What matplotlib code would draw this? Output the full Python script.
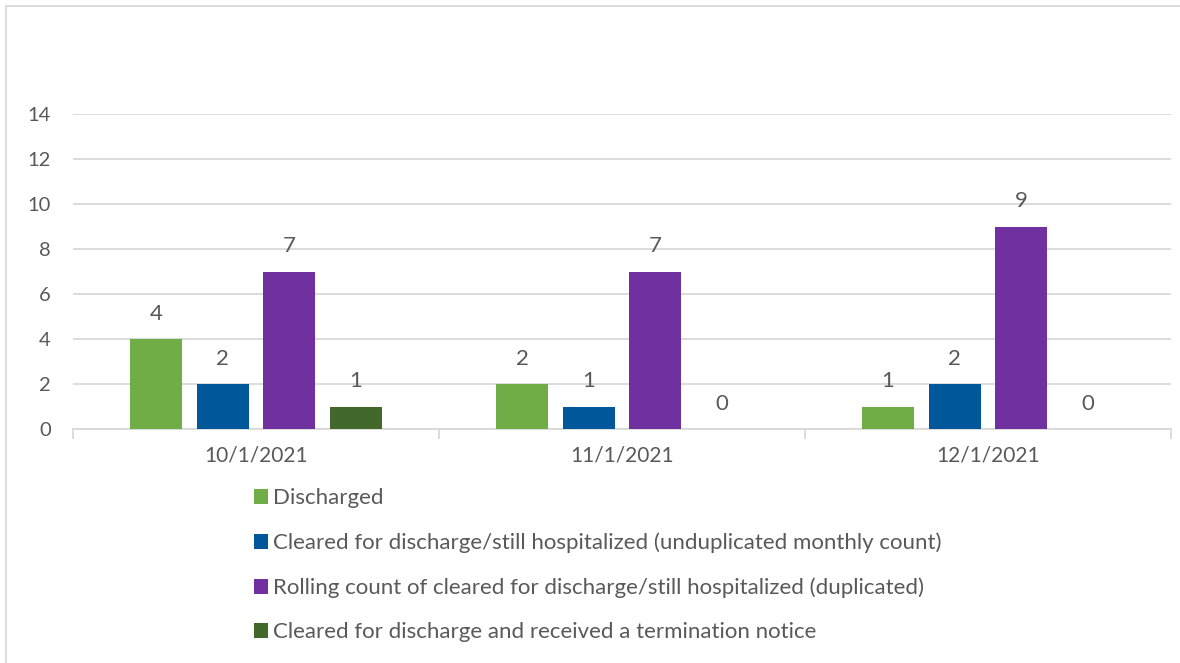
import matplotlib
matplotlib.use("Agg")
import matplotlib.pyplot as plt
from matplotlib.lines import Line2D
from matplotlib.patches import Patch
import numpy as np

categories = ["10/1/2021", "11/1/2021", "12/1/2021"]
series_names = [
    "Discharged",
    "Cleared for discharge/still hospitalized (unduplicated monthly count)",
    "Rolling count of cleared for discharge/still hospitalized (duplicated)",
    "Cleared for discharge and received a termination notice",
]
discharged = [4, 2, 1]
cleared_unduplicated = [2, 1, 2]
rolling_count = [7, 7, 9]
termination_notice = [1, 0, 0]
series_values = [discharged, cleared_unduplicated, rolling_count, termination_notice]
colors = ["#70AD47", "#00589A", "#7030A0", "#43682B"]
yticks = [0, 2, 4, 6, 8, 10, 12, 14]

plt.rcParams['font.family'] = ['Lato', 'DejaVu Sans']
text_color = "#595959"
grid_color = "#D9D9D9"

fig = plt.figure(figsize=(11.8, 6.63), dpi=100)
ax = fig.add_axes([73/1180, 234/663, (1171-73)/1180, (429-114)/663])

x = np.arange(len(categories))
step = 0.182
width = 0.142
for i, (vals, c, name) in enumerate(zip(series_values, colors, series_names)):
    pos = x + (i - 1.5) * step
    ax.bar(pos, vals, width=width, color=c, label=name, zorder=3)
    for p, v in zip(pos, vals):
        ax.annotate(str(v), (p, v), xytext=(0, 11), textcoords="offset points",
                    ha="center", va="bottom", fontsize=16, color=text_color)

ax.set_xlim(-0.5, len(categories) - 0.5)
ax.set_ylim(0, 14)
ax.set_yticks(yticks)
ax.set_yticklabels([str(t) for t in yticks])
ax.yaxis.grid(True, color=grid_color, linewidth=1.3, zorder=0)
ax.tick_params(axis='y', length=0, labelsize=14.5, labelcolor=text_color, pad=16)
for s in ["top", "right", "left"]:
    ax.spines[s].set_visible(False)
ax.spines["bottom"].set_color(grid_color)
ax.spines["bottom"].set_linewidth(1.3)

ax.set_xticks(x)
ax.set_xticklabels(categories)
ax.tick_params(axis='x', length=0, labelsize=15, labelcolor=text_color, pad=12)
ax.set_xticks(np.arange(-0.5, len(categories)), minor=True)
ax.tick_params(axis='x', which='minor', length=7, width=1.3, color=grid_color)

handles = [Patch(facecolor=c, edgecolor='none') for c in colors]
leg = fig.legend(handles, series_names, loc="upper left",
                 bbox_to_anchor=(245/1180, 1 - 479/663), frameon=False,
                 fontsize=16, labelcolor=text_color, handlelength=0.65,
                 handleheight=0.65, handletextpad=0.2, labelspacing=1.1,
                 borderaxespad=0)

fig.add_artist(Line2D([6/1180, 1], [1 - 6/663, 1 - 6/663], color=grid_color, linewidth=1.3))
fig.add_artist(Line2D([6/1180, 6/1180], [0, 1 - 6/663], color=grid_color, linewidth=1.3))

fig.savefig("out.png", dpi=100)
